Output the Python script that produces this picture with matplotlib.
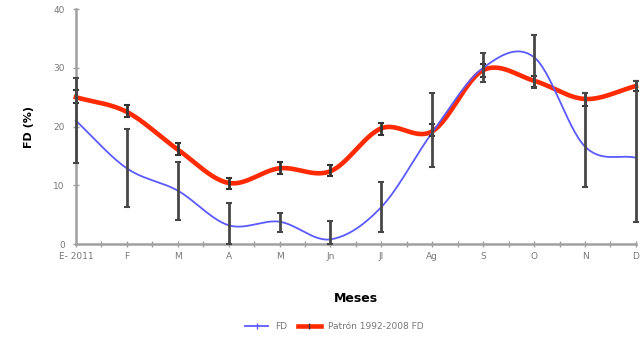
import numpy as np
import matplotlib.pyplot as plt
from matplotlib.lines import Line2D

# -------------------------------
# Data
# -------------------------------
meses = ["E- 2011", "F", "M", "A", "M", "Jn", "Jl", "Ag", "S", "O", "N", "D"]

fd = [21.0, 12.9, 9.1, 3.2, 3.8, 0.8, 6.3, 19.0, 30.0, 31.8, 16.6, 14.7]
fd_low = [13.8, 6.3, 4.1, 0.0, 2.1, 0.0, 2.1, 13.2, 27.6, 26.5, 9.7, 3.7]
fd_high = [28.2, 19.6, 14.0, 7.0, 5.3, 4.0, 10.6, 25.8, 32.6, 35.6, 25.8, 27.8]

patron = [25.0, 22.5, 16.1, 10.4, 12.9, 12.4, 19.7, 19.2, 29.6, 27.8, 24.7, 26.9]
patron_low = [24.0, 21.7, 15.2, 9.3, 11.9, 11.6, 18.6, 18.4, 28.4, 26.7, 23.5, 26.0]
patron_high = [26.2, 23.7, 17.2, 11.3, 14.0, 13.4, 20.6, 20.4, 30.6, 28.6, 25.8, 27.8]


def smooth(y, n=30):
    # Catmull-Rom curve through the points, like Excel's smoothed lines
    y = np.asarray(y, dtype=float)
    p = np.concatenate([[2 * y[0] - y[1]], y, [2 * y[-1] - y[-2]]])
    xs, ys = [], []
    for i in range(len(y) - 1):
        p0, p1, p2, p3 = p[i], p[i + 1], p[i + 2], p[i + 3]
        t = np.linspace(0, 1, n, endpoint=False)
        seg = 0.5 * ((2 * p1) + (-p0 + p2) * t + (2 * p0 - 5 * p1 + 4 * p2 - p3) * t ** 2
                     + (-p0 + 3 * p1 - 3 * p2 + p3) * t ** 3)
        xs.append(i + t)
        ys.append(seg)
    xs.append([len(y) - 1])
    ys.append([y[-1]])
    return np.concatenate(xs), np.concatenate(ys)


x = np.arange(len(meses))

fig = plt.figure(figsize=(6.43, 3.38), dpi=100)
ax = fig.add_axes([0.118, 0.278, 0.871, 0.695])


def draw_err(y, lo, hi, color):
    y = np.array(y)
    _, caps, bars = ax.errorbar(x, y, yerr=[y - np.array(lo), np.array(hi) - y],
                                fmt="none", ecolor=color, elinewidth=2, capsize=2.5,
                                capthick=1.5, zorder=5)
    for c in caps:
        c.set_clip_on(False)
    for b in bars:
        b.set_clip_on(False)


# error bars
draw_err(patron, patron_low, patron_high, "#333333")
draw_err(fd, fd_low, fd_high, "#474747")

sx, sy = smooth(patron)
ax.plot(sx, sy, color="#ff2a00", lw=3.3, zorder=3, clip_on=False)
sx, sy = smooth(fd)
ax.plot(sx, sy, color="#5a5aff", lw=1.3, zorder=4, clip_on=False)

ax.set_xlim(0, 11)
ax.set_ylim(0, 40)
ax.set_yticks([0, 10, 20, 30, 40])
ax.set_xticks(x)
ax.set_xticklabels(meses)
ax.set_xticks(x[:-1] + 0.5, minor=True)

for s in ["top", "right"]:
    ax.spines[s].set_visible(False)
for s in ["left", "bottom"]:
    ax.spines[s].set_color("#a0a0a0")
    ax.spines[s].set_linewidth(1.8)

ax.tick_params(axis="both", which="both", direction="inout", color="#a0a0a0",
               labelsize=6.5, labelcolor="#777777", length=4, width=1)
ax.tick_params(axis="x", pad=4)
ax.tick_params(axis="y", pad=6)

ax.set_ylabel("FD (%)", fontsize=8, fontweight="bold", labelpad=14)
ax.set_xlabel("Meses", fontsize=9, fontweight="bold", labelpad=22)

handles = [
    Line2D([], [], color="#5a5aff", lw=1.3, marker="|", markersize=4, markeredgecolor="#5a5aff"),
    Line2D([], [], color="#ff2a00", lw=3.3, marker="|", markersize=4, markeredgecolor="#333333"),
]
fig.legend(handles, ["FD", "Patrón 1992-2008 FD"], loc="center", bbox_to_anchor=(0.52, 0.035),
           ncol=2, frameon=False, fontsize=6.5, handlelength=2.5, columnspacing=1.2,
           labelcolor="#777777")

fig.savefig("out.png", dpi=100)
